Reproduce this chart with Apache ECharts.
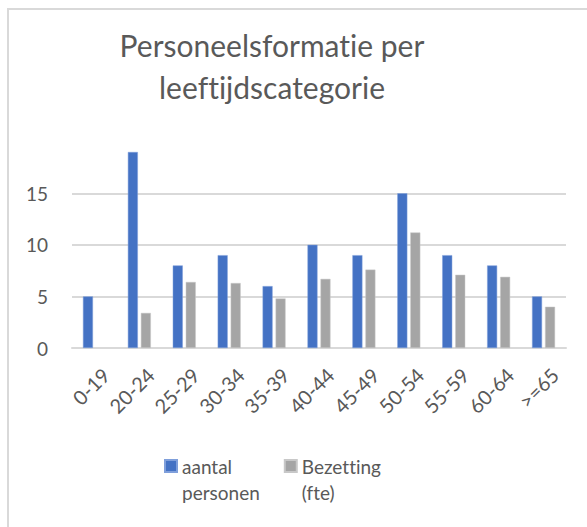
<!DOCTYPE html>
<html>
<head>
<meta charset="utf-8">
<script src="https://cdn.jsdelivr.net/npm/echarts@6/dist/echarts.min.js"></script>
<style>
  html, body { margin: 0; padding: 0; background: #fff; overflow: hidden; }
  #frame { position: absolute; left: 7px; top: 8px; width: 640px; height: 600px; border-left: 2px solid #d9d9d9; border-top: 2px solid #d9d9d9; }
  #chart { position: absolute; left: 0; top: 0; width: 587px; height: 527px; }
  #chart text { font-variant-ligatures: none; }
</style>
</head>
<body>
<div id="frame"></div>
<div id="chart"></div>
<script>
const categories = ['0-19', '20-24', '25-29', '30-34', '35-39', '40-44', '45-49', '50-54', '55-59', '60-64', '>=65']
const aantalPersonen = [5, 19, 8, 9, 6, 10, 9, 15, 9, 8, 5]
const bezettingFte = [null, 3.4, 6.4, 6.3, 4.8, 6.7, 7.6, 11.2, 7.1, 6.9, 4.0]
const yTicks = [0, 5, 10, 15]

const font = 'Lato, "Open Sans", sans-serif'
const chart = echarts.init(document.getElementById('chart'), null, { renderer: 'svg' })

chart.setOption({
  animation: false,
  title: {
    text: 'Personeelsformatie per\nleeftijdscategorie',
    left: 267,
    top: 19,
    textAlign: 'center',
    textStyle: {
      fontFamily: font,
      fontWeight: 'normal',
      fontSize: 30,
      lineHeight: 42,
      color: '#595959'
    }
  },
  legend: {
    left: 164,
    top: 427,
    padding: 0,
    itemWidth: 12,
    itemHeight: 12,
    itemGap: 24,
    icon: 'rect',
    data: ['aantal\npersonen', 'Bezetting\n(fte)'],
    // lege eerste regel zodat het icoon naast de eerste tekstregel staat
    formatter: name => ' \n' + name,
    textStyle: {
      fontFamily: font,
      fontSize: 19,
      lineHeight: 26,
      color: '#595959'
    }
  },
  grid: {
    left: 72,
    right: 21,
    top: 152,
    bottom: 179
  },
  xAxis: {
    type: 'category',
    data: categories,
    axisTick: { show: false },
    axisLine: { lineStyle: { color: '#d9d9d9', width: 2 } },
    axisLabel: {
      rotate: 45,
      margin: 12,
      interval: 0,
      verticalAlign: 'top',
      padding: [6, 0, 0, 0],
      fontFamily: font,
      fontSize: 20,
      color: '#595959'
    }
  },
  yAxis: {
    type: 'value',
    min: 0,
    max: 19,
    interval: 5,
    axisLine: { show: false },
    axisTick: { show: false },
    splitLine: { showMaxLine: false, lineStyle: { color: '#d9d9d9', width: 2 } },
    axisLabel: {
      margin: 24,
      fontFamily: font,
      fontSize: 19,
      color: '#595959',
      showMaxLabel: false,
      formatter: v => (yTicks.includes(v) ? String(v) : '')
    }
  },
  series: [
    {
      name: 'aantal\npersonen',
      type: 'bar',
      data: aantalPersonen,
      barWidth: 10,
      barGap: '30%',
      itemStyle: { color: '#4472c4', borderColor: '#7f9fdb', borderWidth: 0.5 }
    },
    {
      name: 'Bezetting\n(fte)',
      type: 'bar',
      data: bezettingFte,
      barWidth: 10,
      itemStyle: { color: '#a5a5a5', borderColor: '#c8c8c8', borderWidth: 0.5 }
    }
  ]
})
</script>
</body>
</html>
